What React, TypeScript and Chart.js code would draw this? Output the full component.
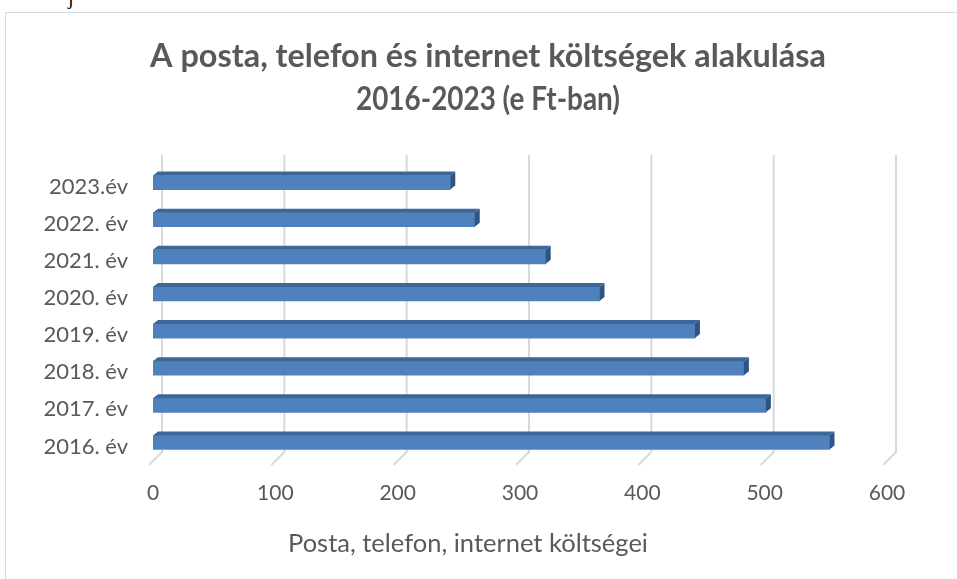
import React, { useEffect, useRef } from "react";
import { Chart, registerables } from "chart.js";

Chart.register(...registerables);

const categories = ["2023.év", "2022. év", "2021. év", "2020. év", "2019. év", "2018. év", "2017. év", "2016. év"];
const values = [243, 263, 321, 365, 443, 483, 501, 553];
const xTickValues = [0, 100, 200, 300, 400, 500, 600];
const titleLines = ["A posta, telefon és internet költségek alakulása", "2016-2023 (e Ft-ban)"];
const axisTitle = "Posta, telefon, internet költségei";

const FONT = "Lato, 'Open Sans', sans-serif";
const TEXT = "#595959";

export default function App() {
  const ref = useRef<HTMLCanvasElement | null>(null);

  useEffect(() => {
    const canvas = ref.current;
    if (!canvas) return;

    const deco = {
      id: "deco",
      beforeDatasetsDraw(chart: any) {
        const { ctx } = chart;
        const xs = chart.scales.x;
        ctx.save();
        ctx.strokeStyle = "#d9d9d9";
        ctx.lineWidth = 2;
        for (const v of xTickValues) {
          const px = xs.getPixelForValue(v);
          ctx.beginPath();
          ctx.moveTo(px + 9, 155);
          ctx.lineTo(px + 9, 452);
          ctx.lineTo(px - 4, 465);
          ctx.stroke();
        }
        ctx.restore();
      },
      afterDatasetsDraw(chart: any) {
        const { ctx } = chart;
        const meta = chart.getDatasetMeta(0);
        ctx.save();
        for (const el of meta.data) {
          const { x, y, base, height } = el.getProps(["x", "y", "base", "height"], true);
          const top = y - height / 2;
          const bot = y + height / 2;
          const dx = 5, dy = 4;
          ctx.fillStyle = "#3c679a";
          ctx.beginPath();
          ctx.moveTo(base, top);
          ctx.lineTo(x, top);
          ctx.lineTo(x + dx, top - dy);
          ctx.lineTo(base + dx, top - dy);
          ctx.closePath();
          ctx.fill();
          ctx.fillStyle = "#2f5483";
          ctx.beginPath();
          ctx.moveTo(x, top);
          ctx.lineTo(x + dx, top - dy);
          ctx.lineTo(x + dx, bot - dy);
          ctx.lineTo(x, bot);
          ctx.closePath();
          ctx.fill();
        }
        ctx.restore();
      },
      afterDraw(chart: any) {
        const { ctx } = chart;
        ctx.save();
        ctx.fillStyle = TEXT;
        ctx.textAlign = "center";
        ctx.textBaseline = "middle";
        ctx.font = "bold 32.5px " + FONT;
        ctx.fillText(titleLines[0], 488, 57, 676);
        ctx.fillText(titleLines[1], 488, 100, 264);
        ctx.font = "25.5px " + FONT;
        ctx.fillText(axisTitle, 468, 544, 366);
        ctx.restore();
      },
    };

    const chart = new Chart(canvas, {
      type: "bar",
      data: {
        labels: categories,
        datasets: [
          {
            data: values,
            backgroundColor: "#4f81bd",
            borderWidth: 0,
            barThickness: 14,
          },
        ],
      },
      options: {
        indexAxis: "y",
        responsive: false,
        animation: false,
        layout: { padding: { top: 164, right: 70, left: 0, bottom: 0 } },
        plugins: { legend: { display: false }, tooltip: { enabled: false }, title: { display: false } },
        scales: {
          x: {
            min: 0,
            max: 600,
            ticks: { stepSize: 100, color: TEXT, font: { family: FONT, size: 21 }, padding: 20, labelOffset: 0 },
            grid: { display: false, drawTicks: false },
            border: { display: false },
            afterFit(s: any) {
              s.height = 118;
            },
          },
          y: {
            ticks: { color: TEXT, font: { family: FONT, size: 22 }, padding: 25, labelOffset: 4 },
            grid: { display: false, drawTicks: false },
            border: { display: false },
            afterFit(s: any) {
              s.width = 153;
            },
          },
        },
      },
      plugins: [deco],
    } as any);

    return () => chart.destroy();
  }, []);

  return (
    <div style={{ position: "fixed", left: 0, top: 0, width: 957, height: 579, overflow: "hidden", background: "#fff" }}>
      <div style={{ position: "absolute", left: 68, top: -14, fontFamily: "'Liberation Serif', serif", fontSize: 20, color: "#000" }}>j</div>
      <canvas ref={ref} width={957} height={579} style={{ position: "absolute", left: 0, top: 0, display: "block" }} />
      <div
        style={{
          position: "absolute",
          left: 5,
          top: 12,
          width: 1200,
          height: 1200,
          border: "1px solid #d9d9d9",
          pointerEvents: "none",
        }}
      />
    </div>
  );
}
